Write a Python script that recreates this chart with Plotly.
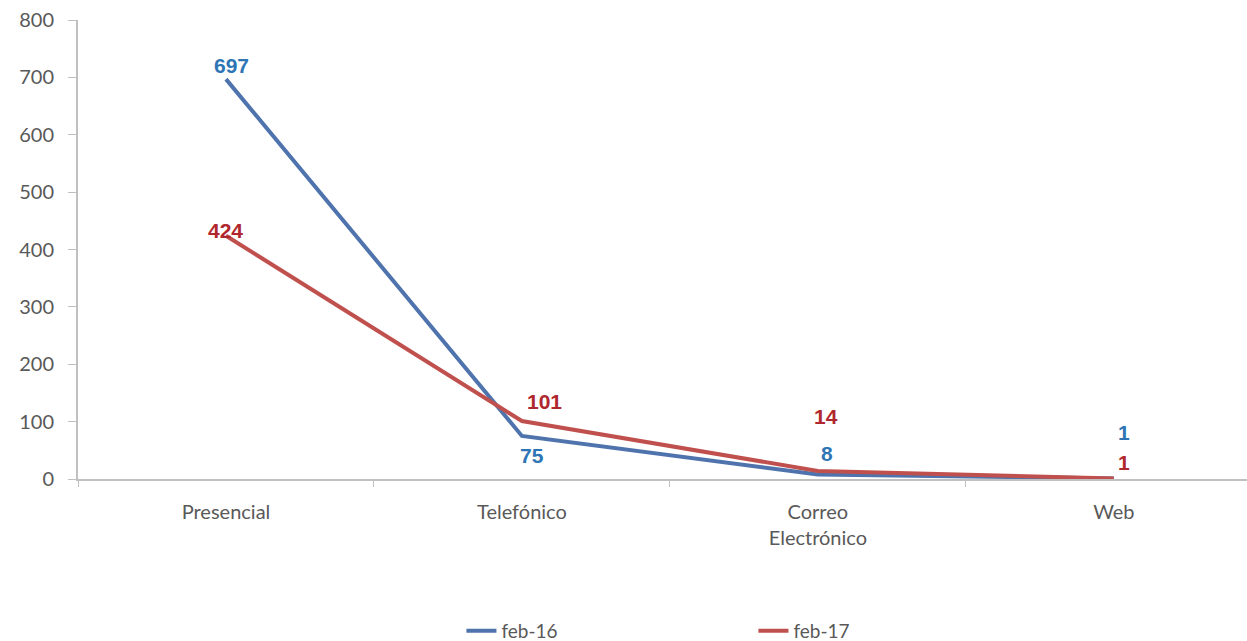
import plotly.graph_objects as go

categories = ["Presencial", "Telefónico", "Correo<br>Electrónico", "Web"]
feb16 = [697, 75, 8, 1]
feb17 = [424, 101, 14, 1]

blue_line = "#4f73ad"
red_line = "#c0504d"
blue_text = "#2e75b6"
red_text = "#b0272d"

fig = go.Figure()
fig.add_trace(go.Scatter(x=categories, y=feb16, name="feb-16", mode="lines",
                         line=dict(color=blue_line, width=4)))
fig.add_trace(go.Scatter(x=categories, y=feb17, name="feb-17", mode="lines",
                         line=dict(color=red_line, width=4)))

# data labels: (x shift, y shift) per point
label_offsets_16 = [(6, 14), (10, -20), (9, 21), (10, 46)]
label_offsets_17 = [(0, 5), (23, 20), (8, 54), (10, 16)]

for vals, offs, col in ((feb16, label_offsets_16, blue_text), (feb17, label_offsets_17, red_text)):
    for cat, v, (dx, dy) in zip(categories, vals, offs):
        fig.add_annotation(x=cat, y=v, text=f"<b>{v}</b>", showarrow=False,
                           xshift=dx, yshift=dy,
                           font=dict(family="Liberation Sans, Arial", size=21, color=col))

tick_font = dict(family="Lato, Open Sans", size=20, color="#595959")

fig.update_layout(
    width=1247, height=641,
    margin=dict(l=78, r=0, t=20, b=162, autoexpand=False),
    plot_bgcolor="white", paper_bgcolor="white",
    showlegend=True,
    legend=dict(orientation="h", x=0.328, xanchor="left", yref="container", y=0.0156, yanchor="middle",
                entrywidth=247, entrywidthmode="pixels",
                font=dict(family="Lato, Open Sans", size=19, color="#595959")),
    xaxis=dict(range=[-0.5, 3.45], showline=True, linecolor="#c0c0c0", linewidth=2,
               ticks="outside", tickson="boundaries", ticklen=6, tickcolor="#c0c0c0",
               showgrid=False, zeroline=False, ticklabelstandoff=14,
               tickfont=tick_font),
    yaxis=dict(range=[0, 800], dtick=100, showline=True, linecolor="#c0c0c0", linewidth=2,
               ticks="outside", ticklen=8, tickcolor="#c0c0c0", showgrid=False, zeroline=False,
               ticklabelstandoff=10, tickfont=tick_font),
)

fig.write_html("out.html")
